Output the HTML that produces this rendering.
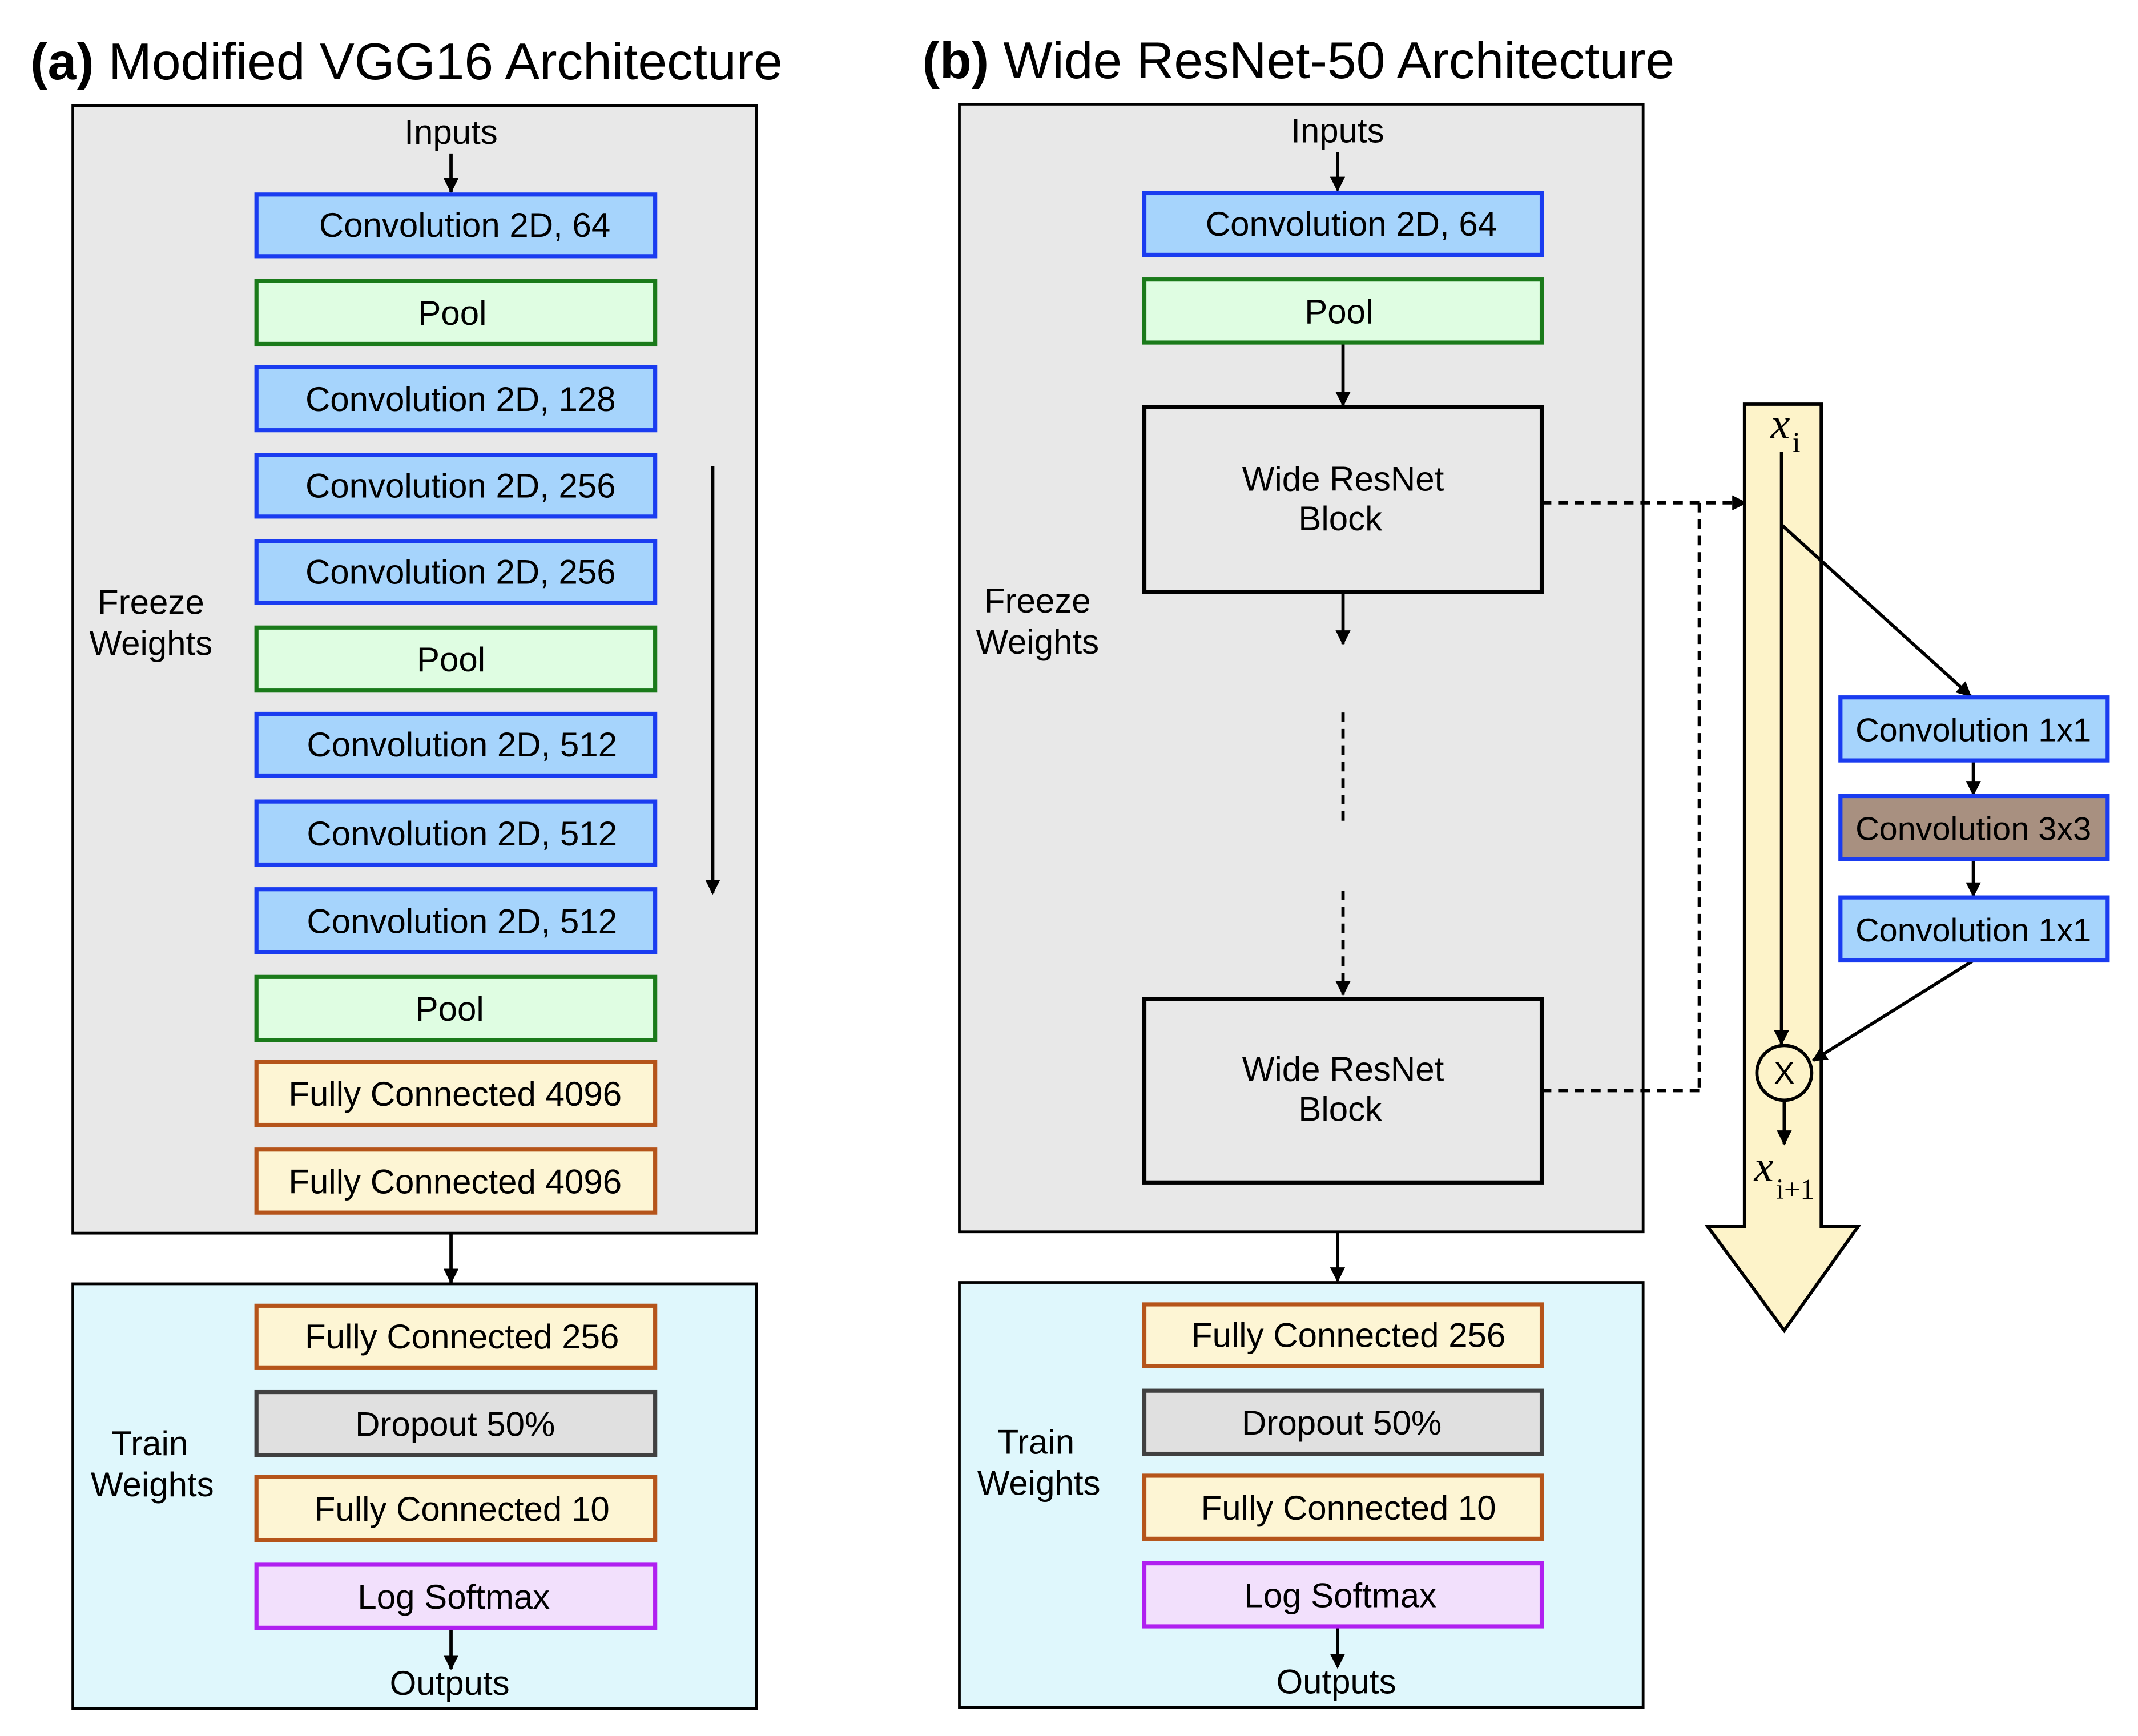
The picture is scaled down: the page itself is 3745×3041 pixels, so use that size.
<!DOCTYPE html>
<html><head><meta charset="utf-8"><style>html,body{margin:0;padding:0;background:#fff}svg{display:block}</style></head>
<body>
<svg width="3745" height="3041" viewBox="0 0 1560 1267" xmlns="http://www.w3.org/2000/svg" font-family="Liberation Sans, Arial, sans-serif">
<defs>
<marker id="ah" markerWidth="11" markerHeight="11" refX="10" refY="5.5" orient="auto" markerUnits="userSpaceOnUse"><path d="M0,0 L11,5.5 L0,11 z" fill="#000"/></marker>
</defs>
<rect width="1560" height="1267" fill="#fff"/>
<!-- titles -->
<text x="22" y="58" font-size="38"><tspan font-weight="bold">(a)</tspan> Modified VGG16 Architecture</text>
<text x="673" y="57" font-size="38"><tspan font-weight="bold">(b)</tspan> Wide ResNet-50 Architecture</text>

<!-- panel a -->
<rect x="53" y="77" width="499" height="823" fill="#e8e8e8" stroke="#000" stroke-width="2"/>
<rect x="53" y="937" width="499" height="310" fill="#dff7fc" stroke="#000" stroke-width="2"/>
<g font-size="25" text-anchor="middle">
<text x="329" y="105">Inputs</text>
<text x="328" y="1237">Outputs</text>
<text x="110" y="448">Freeze</text><text x="110" y="478">Weights</text>
<text x="109" y="1062">Train</text><text x="111" y="1092">Weights</text>
</g>
<g stroke="#000" stroke-width="2.4" fill="none" marker-end="url(#ah)">
<line x1="329" y1="112" x2="329" y2="140"/>
<line x1="329" y1="1188" x2="329" y2="1218"/>
<line x1="329" y1="900" x2="329" y2="936"/>
<line x1="520" y1="340" x2="520" y2="652"/>
</g>
<g stroke-width="3" font-size="25" text-anchor="middle">
<rect x="187" y="142" width="291" height="45" fill="#a6d4fc" stroke="#1a3cf0"/><text x="339" y="173">Convolution 2D, 64</text>
<rect x="187" y="205" width="291" height="46" fill="#dffde2" stroke="#1a7a1a"/><text x="330" y="237">Pool</text>
<rect x="187" y="268" width="291" height="46" fill="#a6d4fc" stroke="#1a3cf0"/><text x="336" y="300">Convolution 2D, 128</text>
<rect x="187" y="332" width="291" height="45" fill="#a6d4fc" stroke="#1a3cf0"/><text x="336" y="363">Convolution 2D, 256</text>
<rect x="187" y="395" width="291" height="45" fill="#a6d4fc" stroke="#1a3cf0"/><text x="336" y="426">Convolution 2D, 256</text>
<rect x="187" y="458" width="291" height="46" fill="#dffde2" stroke="#1a7a1a"/><text x="329" y="490">Pool</text>
<rect x="187" y="521" width="291" height="45" fill="#a6d4fc" stroke="#1a3cf0"/><text x="337" y="552">Convolution 2D, 512</text>
<rect x="187" y="585" width="291" height="46" fill="#a6d4fc" stroke="#1a3cf0"/><text x="337" y="617">Convolution 2D, 512</text>
<rect x="187" y="649" width="291" height="46" fill="#a6d4fc" stroke="#1a3cf0"/><text x="337" y="681">Convolution 2D, 512</text>
<rect x="187" y="713" width="291" height="46" fill="#dffde2" stroke="#1a7a1a"/><text x="328" y="745">Pool</text>
<rect x="187" y="775" width="291" height="46" fill="#fdf5d4" stroke="#b5541a"/><text x="332" y="807">Fully Connected 4096</text>
<rect x="187" y="839" width="291" height="46" fill="#fdf5d4" stroke="#b5541a"/><text x="332" y="871">Fully Connected 4096</text>
<rect x="187" y="953" width="291" height="45" fill="#fdf5d4" stroke="#b5541a"/><text x="337" y="984">Fully Connected 256</text>
<rect x="187" y="1016" width="291" height="46" fill="#e0e0e0" stroke="#404040"/><text x="332" y="1048">Dropout 50%</text>
<rect x="187" y="1078" width="291" height="46" fill="#fdf5d4" stroke="#b5541a"/><text x="337" y="1110">Fully Connected 10</text>
<rect x="187" y="1142" width="291" height="46" fill="#f2e0fc" stroke="#b020f0"/><text x="331" y="1174">Log Softmax</text>
</g>

<!-- panel b -->
<rect x="700" y="76" width="499" height="823" fill="#e8e8e8" stroke="#000" stroke-width="2"/>
<rect x="700" y="936" width="499" height="310" fill="#dff7fc" stroke="#000" stroke-width="2"/>
<g font-size="25" text-anchor="middle">
<text x="976" y="104">Inputs</text>
<text x="975" y="1236">Outputs</text>
<text x="757" y="447">Freeze</text><text x="757" y="477">Weights</text>
<text x="756" y="1061">Train</text><text x="758" y="1091">Weights</text>
</g>
<g stroke="#000" stroke-width="2.4" fill="none" marker-end="url(#ah)">
<line x1="976" y1="111" x2="976" y2="139"/>
<line x1="976" y1="1187" x2="976" y2="1217"/>
<line x1="976" y1="899" x2="976" y2="935"/>
<line x1="980" y1="251" x2="980" y2="296"/>
<line x1="980" y1="432" x2="980" y2="470"/>
<line x1="980" y1="650" x2="980" y2="726" stroke-dasharray="7,5"/>
<line x1="1125" y1="367" x2="1274" y2="367" stroke-dasharray="7,5"/>
</g>
<g stroke="#000" stroke-width="2.4" fill="none" stroke-dasharray="7,5">
<line x1="980" y1="520" x2="980" y2="602"/>
<line x1="1240" y1="367" x2="1240" y2="796"/>
<line x1="1125" y1="796" x2="1240" y2="796"/>
</g>
<g stroke-width="3" font-size="25" text-anchor="middle">
<rect x="835" y="141" width="290" height="45" fill="#a6d4fc" stroke="#1a3cf0"/><text x="986" y="172">Convolution 2D, 64</text>
<rect x="835" y="204" width="290" height="46" fill="#dffde2" stroke="#1a7a1a"/><text x="977" y="236">Pool</text>
<rect x="835" y="297" width="290" height="135" fill="#e8e8e8" stroke="#000"/><text x="980" y="358">Wide ResNet</text><text x="978" y="387">Block</text>
<rect x="835" y="729" width="290" height="134" fill="#e8e8e8" stroke="#000"/><text x="980" y="789">Wide ResNet</text><text x="978" y="818">Block</text>
<rect x="835" y="952" width="290" height="45" fill="#fdf5d4" stroke="#b5541a"/><text x="984" y="983">Fully Connected 256</text>
<rect x="835" y="1015" width="290" height="46" fill="#e0e0e0" stroke="#404040"/><text x="979" y="1047">Dropout 50%</text>
<rect x="835" y="1077" width="290" height="46" fill="#fdf5d4" stroke="#b5541a"/><text x="984" y="1109">Fully Connected 10</text>
<rect x="835" y="1141" width="290" height="46" fill="#f2e0fc" stroke="#b020f0"/><text x="978" y="1173">Log Softmax</text>
</g>

<!-- residual block detail -->
<path d="M1273,295 L1329,295 L1329,895 L1356,895 L1302,971 L1246,895 L1273,895 Z" fill="#fdf3c9" stroke="#000" stroke-width="2.4"/>
<text x="1292" y="320" font-family="Liberation Serif, serif" font-style="italic" font-size="32">x</text>
<text x="1308" y="330" font-family="Liberation Serif, serif" font-size="21">i</text>
<text x="1280" y="862" font-family="Liberation Serif, serif" font-style="italic" font-size="32">x</text>
<text x="1296" y="875" font-family="Liberation Serif, serif" font-size="21">i+1</text>
<g stroke="#000" stroke-width="2.4" fill="none" marker-end="url(#ah)">
<line x1="1300" y1="330" x2="1300" y2="762"/>
<line x1="1302" y1="803" x2="1302" y2="835"/>
<line x1="1300" y1="383" x2="1438" y2="508"/>
<line x1="1440" y1="556" x2="1440" y2="580"/>
<line x1="1440" y1="628" x2="1440" y2="654"/>
<line x1="1440" y1="701" x2="1323" y2="774"/>
</g>
<circle cx="1302" cy="783" r="20" fill="#fdf3c9" stroke="#000" stroke-width="2.4"/>
<text x="1302" y="791" font-size="23" text-anchor="middle">X</text>
<g stroke-width="3" font-size="24" text-anchor="middle">
<rect x="1343" y="509" width="195" height="46" fill="#a6d4fc" stroke="#1a3cf0"/><text x="1440" y="541">Convolution 1x1</text>
<rect x="1343" y="581" width="195" height="46" fill="#a89080" stroke="#1a3cf0"/><text x="1440" y="613">Convolution 3x3</text>
<rect x="1343" y="655" width="195" height="46" fill="#a6d4fc" stroke="#1a3cf0"/><text x="1440" y="687">Convolution 1x1</text>
</g>
</svg>
</body></html>
